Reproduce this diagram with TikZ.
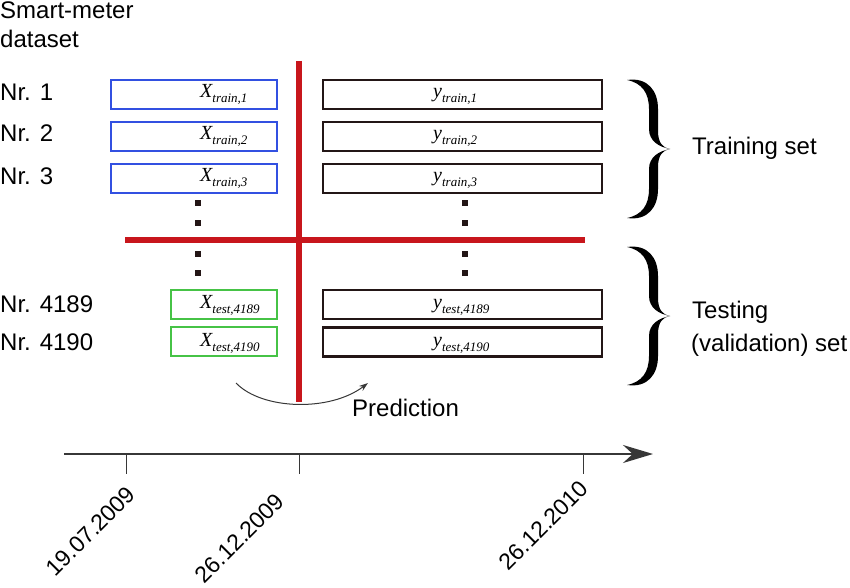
\documentclass[tikz,border=0pt]{standalone}
\usepackage{fontspec}
\setmainfont{Liberation Sans}
\newfontfamily\tnr{Liberation Serif}
\usetikzlibrary{arrows.meta}
\definecolor{redline}{RGB}{200,22,28}
\definecolor{bluebox}{RGB}{50,80,225}
\definecolor{greenbox}{RGB}{70,195,70}
\definecolor{darkbox}{RGB}{35,22,22}
\definecolor{axisgray}{RGB}{55,55,55}
\newcommand\sublbl[2]{{\tnr\itshape\fontsize{20}{24}\selectfont #1\raisebox{-5pt}{\fontsize{13}{15}\selectfont #2}}}
\tikzset{bracepic/.pic={
  \fill[black] (-43,-69) .. controls (-22,-72) and (-12,-58) .. (-12,-40) -- (-12,-18)
     .. controls (-12,-6) and (-7,-1) .. (0,0)
     .. controls (-11,-2) and (-21,-8) .. (-21,-20) -- (-21,-40)
     .. controls (-21,-56) and (-28,-66) .. (-43,-69) -- cycle;
  \fill[black] (-43,69) .. controls (-22,72) and (-12,58) .. (-12,40) -- (-12,18)
     .. controls (-12,6) and (-7,1) .. (0,0)
     .. controls (-11,2) and (-21,8) .. (-21,20) -- (-21,40)
     .. controls (-21,56) and (-28,66) .. (-43,69) -- cycle;
}}
\begin{document}
\begin{tikzpicture}[x=1pt,y=-1pt,
  txt/.style={anchor=base west, inner sep=0, font=\fontsize{24}{28}\selectfont},
  rowbox/.style={draw, line width=2.2, inner sep=0, minimum height=29},
  xtr/.style={rowbox, draw=bluebox, minimum width=166},
  xte/.style={rowbox, draw=greenbox, minimum width=106},
  ybx/.style={rowbox, draw=darkbox, minimum width=279},
  lbl/.style={anchor=base west, inner sep=0},
  dotsq/.style={fill=darkbox, inner sep=0, minimum size=5.5},
  redbar/.style={draw=redline, line width=5.5},
  tickline/.style={draw=axisgray, line width=1},
  datelbl/.style={anchor=base east, rotate=45, inner sep=0, font=\fontsize{23}{27}\selectfont},
]
\useasboundingbox (0,0) rectangle (850,588);

% left texts
\node[txt] (smart) at (0,19) {Smart-meter};
\node[txt] (dataset) at (0,48) {dataset};
\node[txt] (nr1) at (0,101) {Nr. 1};
\node[txt] (nr2) at (0,142) {Nr. 2};
\node[txt] (nr3) at (0,184) {Nr. 3};
\node[txt] (nr4189) at (0,312) {Nr. 4189};
\node[txt] (nr4190) at (0,350) {Nr. 4190};

% boxes
\node[xtr] (x1) at (194,94.5) {};
\node[xtr] (x2) at (194,136.5) {};
\node[xtr] (x3) at (194,178.5) {};
\node[ybx] (y1) at (462.5,94.5) {};
\node[ybx] (y2) at (462.5,136.5) {};
\node[ybx] (y3) at (462.5,178.5) {};
\node[xte] (xt1) at (224,304.5) {};
\node[xte] (xt2) at (224,341.5) {};
\node[ybx] (yt1) at (462.5,304.5) {};
\node[ybx] (yt2) at (462.5,342) {};

% labels
\node[lbl] (lx1) at (200,98) {\sublbl{X}{train,1}};
\node[lbl] (lx2) at (200,140) {\sublbl{X}{train,2}};
\node[lbl] (lx3) at (200,182) {\sublbl{X}{train,3}};
\node[lbl] (ly1) at (433,98) {\sublbl{y}{train,1}};
\node[lbl] (ly2) at (433,140) {\sublbl{y}{train,2}};
\node[lbl] (ly3) at (433,182) {\sublbl{y}{train,3}};
\node[lbl] (lxt1) at (200,308) {\sublbl{X}{test,4189}};
\node[lbl] (lxt2) at (200,346) {\sublbl{X}{test,4190}};
\node[lbl] (lyt1) at (433,308) {\sublbl{y}{test,4189}};
\node[lbl] (lyt2) at (433,346) {\sublbl{y}{test,4190}};

% dots
\node[dotsq] (dl1) at (198,203) {};
\node[dotsq] (dl2) at (198,223) {};
\node[dotsq] (dl3) at (198,254) {};
\node[dotsq] (dl4) at (198,273) {};
\node[dotsq] (dr1) at (465,203) {};
\node[dotsq] (dr2) at (465,223) {};
\node[dotsq] (dr3) at (465,254) {};
\node[dotsq] (dr4) at (465,273) {};

% red lines
\coordinate (vtop) at (299,61);
\coordinate (vbot) at (299,402);
\coordinate (hl) at (125,240);
\coordinate (hr) at (585,240);
\draw[redbar] (vtop) -- (vbot);
\draw[redbar] (hl) -- (hr);

% braces
\pic at (670,149) {bracepic};
\pic at (670,316) {bracepic};
\node[txt] (trainset) at (692,155) {Training set};
\node[txt] (testing) at (692,318) {Testing};
\node[txt] (valset) at (691,351) {(validation) set};

% prediction
\coordinate (ps) at (236,383);
\coordinate (pe) at (368,383);
\draw[draw=axisgray, line width=1, -{Stealth[length=9,width=6]}] (ps) .. controls (262,410) and (330,412) .. (pe);
\node[txt] (pred) at (352,416) {Prediction};

% timeline
\coordinate (ax0) at (64,454);
\coordinate (ax1) at (653,454);
\draw[draw=axisgray, line width=2, -{Stealth[length=30,width=18]}] (ax0) -- (ax1);
\coordinate (t1a) at (126,454); \coordinate (t1b) at (126,474);
\coordinate (t2a) at (299,454); \coordinate (t2b) at (299,474);
\coordinate (t3a) at (583,454); \coordinate (t3b) at (583,474);
\draw[tickline] (t1a) -- (t1b);
\draw[tickline] (t2a) -- (t2b);
\draw[tickline] (t3a) -- (t3b);
\node[datelbl] (d1) at (137,496) {19.07.2009};
\node[datelbl] (d2) at (286,503) {26.12.2009};
\node[datelbl] (d3) at (590,490) {26.12.2010};
\end{tikzpicture}
\end{document}
